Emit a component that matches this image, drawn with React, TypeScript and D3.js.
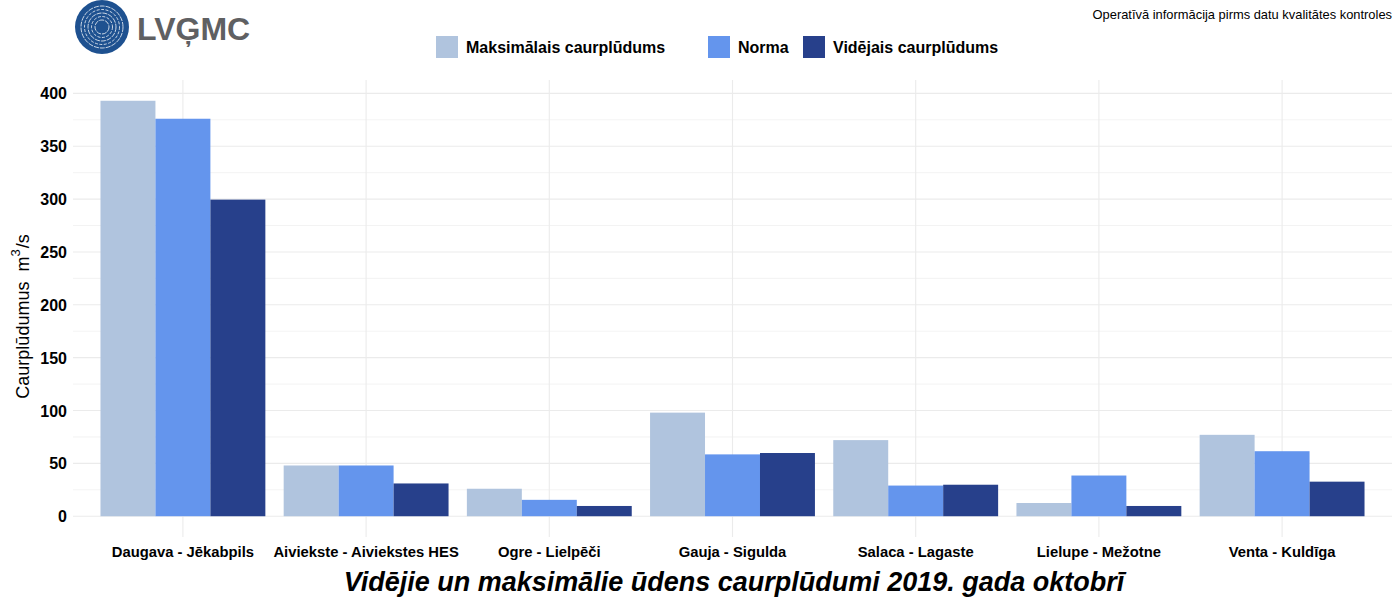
import React, { useEffect, useRef } from 'react';
import * as d3 from 'd3';

// river stations and monthly discharge values (m3/s), October 2019
const stations = [
  'Daugava - Jēkabpils',
  'Aiviekste - Aiviekstes HES',
  'Ogre - Lielpēči',
  'Gauja - Sigulda',
  'Salaca - Lagaste',
  'Lielupe - Mežotne',
  'Venta - Kuldīga',
];
const maxFlow = [393, 48, 26, 98, 72, 12.5, 77];
const normFlow = [376, 48, 15.5, 58.5, 29, 38.5, 61.5];
const meanFlow = [299.5, 31, 9.7, 59.8, 29.8, 9.7, 32.7];

const seriesNames = ['Maksimālais caurplūdums', 'Norma', 'Vidējais caurplūdums'];
const seriesColors = ['#b0c4de', '#6495ed', '#27408b'];
const yTicks = [0, 50, 100, 150, 200, 250, 300, 350, 400];

const FONT = '"Liberation Sans", Arial, sans-serif';

export default function App() {
  const ref = useRef<SVGSVGElement>(null);

  useEffect(() => {
    const width = 1400, height = 600;
    const svg = d3.select(ref.current).attr('width', width).attr('height', height);
    svg.selectAll('*').remove();

    const plot = { left: 73, right: 1392, top: 80, bottom: 537 };

    // ggplot-like expansion: 0.6 units on a discrete axis, 5% on y
    const x = d3.scaleLinear().domain([0.4, stations.length + 0.6]).range([plot.left, plot.right]);
    const yMax = d3.max([...maxFlow, ...normFlow, ...meanFlow]) as number;
    const yMin = 0;
    const pad = (yMax - yMin) * 0.05;
    const y = d3.scaleLinear().domain([yMin - pad, yMax + pad]).range([plot.bottom, plot.top]);

    const g = svg.append('g').attr('font-family', FONT);

    // grid
    const minor = d3.range(25, 400, 50);
    g.append('g').selectAll('line').data(minor).enter().append('line')
      .attr('x1', plot.left).attr('x2', plot.right)
      .attr('y1', d => y(d)).attr('y2', d => y(d))
      .attr('stroke', '#ebebeb').attr('stroke-width', 0.6);
    g.append('g').selectAll('line').data(yTicks).enter().append('line')
      .attr('x1', plot.left).attr('x2', plot.right)
      .attr('y1', d => y(d)).attr('y2', d => y(d))
      .attr('stroke', '#ebebeb').attr('stroke-width', 1.1);
    g.append('g').selectAll('line').data(stations).enter().append('line')
      .attr('x1', (d, i) => x(i + 1)).attr('x2', (d, i) => x(i + 1))
      .attr('y1', plot.top).attr('y2', plot.bottom)
      .attr('stroke', '#ebebeb').attr('stroke-width', 1.1);

    // bars
    const groupW = 0.9;
    const barW = groupW / 3;
    [maxFlow, normFlow, meanFlow].forEach((vals, s) => {
      g.append('g').selectAll('rect').data(vals).enter().append('rect')
        .attr('x', (d, i) => x(i + 1 - groupW / 2 + s * barW))
        .attr('width', x(barW) - x(0))
        .attr('y', d => y(d))
        .attr('height', d => y(0) - y(d))
        .attr('fill', seriesColors[s]);
    });

    // y axis labels
    g.append('g').selectAll('text').data(yTicks).enter().append('text')
      .attr('x', 67).attr('y', d => y(d) + 6)
      .attr('text-anchor', 'end').attr('font-size', 16).attr('font-weight', 'bold')
      .attr('fill', '#000').text(d => d);

    // y title with superscript
    const yt = g.append('text')
      .attr('transform', `translate(29, ${(plot.top + plot.bottom) / 2 + 8}) rotate(-90)`)
      .attr('text-anchor', 'middle').attr('font-size', 18).attr('fill', '#000');
    yt.append('tspan').text('Caurplūdumus');
    yt.append('tspan').attr('dx', 10).text('m');
    yt.append('tspan').attr('dy', -9).attr('font-size', 13).text('3');
    yt.append('tspan').attr('dy', 9).attr('dx', 1).text('/s');

    // x labels
    g.append('g').selectAll('text').data(stations).enter().append('text')
      .attr('x', (d, i) => x(i + 1)).attr('y', 557)
      .attr('text-anchor', 'middle').attr('font-size', 14.8).attr('font-weight', 'bold')
      .attr('fill', '#000').text(d => d);

    // title
    g.append('text').attr('x', 734).attr('y', 591)
      .attr('text-anchor', 'middle').attr('font-size', 27).attr('font-weight', 'bold')
      .attr('font-style', 'italic').attr('fill', '#000')
      .text('Vidējie un maksimālie ūdens caurplūdumi 2019. gada oktobrī');

    // legend
    const legendX = [436, 708, 803];
    const leg = g.append('g').selectAll('g').data(seriesNames).enter().append('g')
      .attr('transform', (d, i) => `translate(${legendX[i]}, 36)`);
    leg.append('rect').attr('width', 22).attr('height', 22).attr('fill', (d, i) => seriesColors[i]);
    leg.append('text').attr('x', 30).attr('y', 17).attr('font-size', 16).attr('font-weight', 'bold')
      .attr('fill', '#000').text(d => d);

    // note
    g.append('text').attr('x', 1392).attr('y', 19).attr('text-anchor', 'end')
      .attr('font-size', 12.9).attr('fill', '#000')
      .text('Operatīvā informācija pirms datu kvalitātes kontroles');

    // logo
    const logo = g.append('g').attr('transform', 'translate(102, 27)');
    logo.append('circle').attr('r', 27).attr('fill', '#1e5190');
    [7, 10.5, 14, 17.5, 21].forEach((r, i) => {
      logo.append('circle').attr('r', r).attr('fill', 'none')
        .attr('stroke', '#ffffff').attr('stroke-width', 0.9)
        .attr('stroke-dasharray', i % 2 ? '3 1.5' : '5 1')
        .attr('opacity', 0.85);
    });
    g.append('text').attr('x', 137).attr('y', 40).attr('font-size', 32).attr('font-weight', 'bold')
      .attr('fill', '#5f6062').text('LVĢMC');
  }, []);

  return (
    <svg ref={ref} style={{ position: 'absolute', left: 0, top: 0, background: '#fff' }} />
  );
}
